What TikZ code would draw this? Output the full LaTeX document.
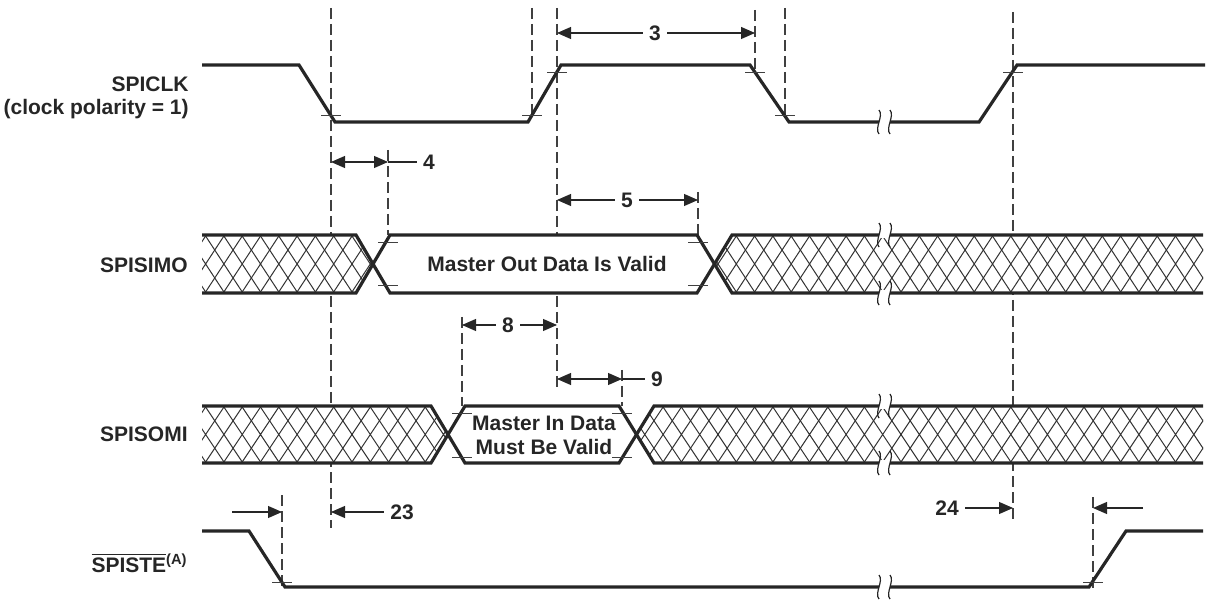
\documentclass[tikz,border=0pt]{standalone}
\usepackage{fontspec}
\setmainfont{Liberation Sans}
\usetikzlibrary{arrows.meta}

\tikzset{
  sig/.style={line width=1.6pt, black!85, line join=miter},
  guide/.style={line width=0.6pt, black!75, dash pattern=on 5.5pt off 2.5pt},
  tickmark/.style={line width=0.45pt, black!75},
  hatchline/.style={line width=0.5pt, black!80},
  brkline/.style={line width=0.6pt, black!85},
  dim/.style={line width=0.55pt, black!85, -{Triangle[length=7pt,width=6pt]}},
  lbl/.style={font=\bfseries\fontsize{10.5}{11.5}\selectfont, text=black!85, inner sep=0pt},
  dlbl/.style={font=\bfseries\fontsize{10.5}{12}\selectfont, text=black!85, inner sep=3pt},
}

% hatched (don't care) zone: #1 = outline, #2 = top y, #3 = height
\newcommand{\hatchzone}[3]{%
  \begin{scope}
    \fill[white] #1;
    \clip #1;
    \foreach \hx in {150,168.3,...,1230}
      \draw[hatchline] (\hx,#2) -- ++(38,#3) (\hx+38,#2) -- ++(-38,#3);
  \end{scope}}

% time break mark: #1 = x, #2 = y
\newcommand{\gapmark}[2]{%
  \fill[white] (#1-5.5,#2-3) rectangle (#1+5.5,#2+3);
  \draw[brkline] (#1-5.5,#2-12) .. controls (#1-0.5,#2-6) and (#1-10.5,#2+6) .. (#1-5.5,#2+12);
  \draw[brkline] (#1+5.5,#2-12) .. controls (#1+10.5,#2-6) and (#1+0.5,#2+6) .. (#1+5.5,#2+12);}

\begin{document}
\begin{tikzpicture}[x=0.5pt,y=-0.5pt]
    \useasboundingbox (0,0) rectangle (1208,603);

    % levels
    \def\clkhi{65}  \def\clklo{122}
    \def\mot{235}   \def\mob{293}   % SPISIMO band
    \def\mit{406}   \def\mib{463}   % SPISOMI band
    \def\stehi{531} \def\stelo{587}

    % Guide lines (drawn first, the bands cover them)
    \foreach \gx/\gy/\gz in {331/8/528, 388/150/235, 532/8/118, 557/8/387,
                             755/10/72, 785/8/118, 1013/12/520, 698/192/235,
                             462/317/406, 622/370/406, 282/495/590, 1093/497/590}
      \draw[guide] (\gx,\gy) -- (\gx,\gz);

    % SPICLK
    \draw[sig] (202,\clkhi) -- (299,\clkhi) -- (335,\clklo) -- (528,\clklo) -- (561,\clkhi)
               -- (750,\clkhi) -- (789,\clklo) -- (979,\clklo) -- (1017,\clkhi) -- (1205,\clkhi);

    % SPISIMO
    \hatchzone{(202,\mot) -- (356,\mot) -- (373,264) -- (356,\mob) -- (202,\mob) -- cycle}{\mot}{58}
    \fill[white] (373,264) -- (390,\mot) -- (697,\mot) -- (714.5,264) -- (697,\mob) -- (390,\mob) -- cycle;
    \hatchzone{(714.5,264) -- (732,\mot) -- (1203,\mot) -- (1203,\mob) -- (732,\mob) -- cycle}{\mot}{58}
    \draw[sig] (202,\mot) -- (356,\mot) -- (390,\mob) -- (697,\mob) -- (732,\mot) -- (1203,\mot);
    \draw[sig] (202,\mob) -- (356,\mob) -- (390,\mot) -- (697,\mot) -- (732,\mob) -- (1203,\mob);

    % SPISOMI
    \hatchzone{(202,\mit) -- (431,\mit) -- (448,434.5) -- (431,\mib) -- (202,\mib) -- cycle}{\mit}{57}
    \fill[white] (448,434.5) -- (465,\mit) -- (619,\mit) -- (636.5,434.5) -- (619,\mib) -- (465,\mib) -- cycle;
    \hatchzone{(636.5,434.5) -- (654,\mit) -- (1203,\mit) -- (1203,\mib) -- (654,\mib) -- cycle}{\mit}{57}
    \draw[sig] (202,\mit) -- (431,\mit) -- (465,\mib) -- (619,\mib) -- (654,\mit) -- (1203,\mit);
    \draw[sig] (202,\mib) -- (431,\mib) -- (465,\mit) -- (619,\mit) -- (654,\mib) -- (1203,\mib);

    % SPISTE
    \draw[sig] (202,\stehi) -- (249,\stehi) -- (285,\stelo) -- (1089,\stelo) -- (1126,\stehi) -- (1203,\stehi);

    % threshold ticks
    \foreach \tx/\ty in {331/115, 532/115, 557/72, 755/72, 785/115, 1013/72,
                         388/242, 388/285, 698/242, 698/285,
                         462/413, 462/457, 622/413, 622/457, 282/582, 1093/582}
      \draw[tickmark] (\tx-10,\ty) -- (\tx+10,\ty);

    % time breaks
    \foreach \by in {\clklo, \mot, \mob, \mit, \mib, \stelo}
      {\gapmark{884.5}{\by}}

    % Signal names
    \node[lbl, anchor=east, align=right] (spiclk) at (189,98) {SPICLK\\(clock polarity = 1)};
    \node[lbl, anchor=east] (spisimo) at (188,265) {SPISIMO};
    \node[lbl, anchor=east] (spisomi) at (188,434) {SPISOMI};
    \node[lbl, anchor=east] (spiste) at (188,563) {$\overline{\mbox{SPISTE}}$\textsuperscript{(A)}};

    % Data texts
    \node[lbl] (mosi) at (547,264) {Master Out Data Is Valid};
    \node[lbl, align=center, font=\bfseries\fontsize{10.5}{12}\selectfont] (miso) at (544,435) {Master In Data\\Must Be Valid};

    % Timing parameters
    \node[dlbl] (n3) at (655,33) {3};
    \coordinate (g3a) at (557,33);
    \coordinate (g3b) at (755,33);
    \draw[dim] (n3) -- (g3a);
    \draw[dim] (n3) -- (g3b);

    \node[dlbl] (n4) at (429,162) {4};
    \coordinate (g4a) at (331,162);
    \coordinate (g4m) at (359,162);
    \coordinate (g4b) at (388,162);
    \draw[dim] (g4m) -- (g4a);
    \draw[dim] (g4m) -- (g4b);
    \draw[line width=0.55pt, black!85] (g4b) -- (n4);

    \node[dlbl] (n5) at (627,200) {5};
    \coordinate (g5a) at (557,200);
    \coordinate (g5b) at (698,200);
    \draw[dim] (n5) -- (g5a);
    \draw[dim] (n5) -- (g5b);

    \node[dlbl] (n8) at (508,325) {8};
    \coordinate (g8a) at (462,325);
    \coordinate (g8b) at (557,325);
    \draw[dim] (n8) -- (g8a);
    \draw[dim] (n8) -- (g8b);

    \node[dlbl] (n9) at (657,379) {9};
    \coordinate (g9a) at (557,379);
    \coordinate (g9m) at (590,379);
    \coordinate (g9b) at (622,379);
    \draw[dim] (g9m) -- (g9a);
    \draw[dim] (g9m) -- (g9b);
    \draw[line width=0.55pt, black!85] (g9b) -- (n9);

    \node[dlbl] (n23) at (402,512) {23};
    \coordinate (g23a) at (331,512);
    \coordinate (g23s) at (232,512);
    \coordinate (g23b) at (282,512);
    \draw[dim] (n23) -- (g23a);
    \draw[dim] (g23s) -- (g23b);

    \node[dlbl] (n24) at (947,508) {24};
    \coordinate (g24a) at (1013,508);
    \coordinate (g24s) at (1143,508);
    \coordinate (g24b) at (1093,508);
    \draw[dim] (n24) -- (g24a);
    \draw[dim] (g24s) -- (g24b);

\end{tikzpicture}
\end{document}
